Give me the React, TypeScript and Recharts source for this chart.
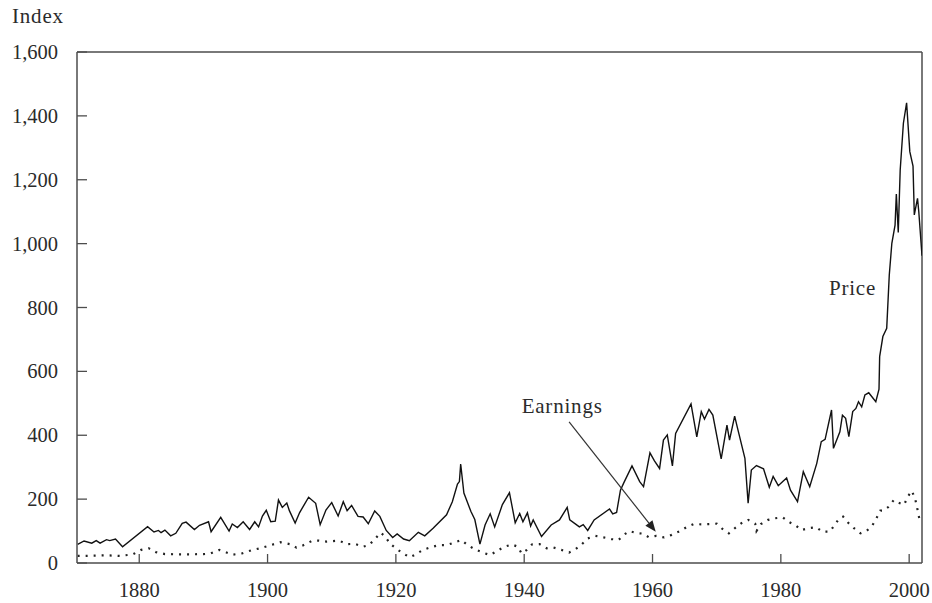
import React from 'react';
import { LineChart, Line, XAxis, YAxis, ReferenceLine, ReferenceDot } from 'recharts';

const priceYears = [
  1870.4, 1871.4, 1872.6, 1873.3, 1873.9, 1874.9, 1875.4, 1876.3, 1877.4, 1881.3,
  1882.3, 1883.0, 1883.4, 1884.0, 1884.9, 1885.7, 1886.7, 1887.3, 1888.6, 1889.4,
  1890.8, 1891.2, 1892.7, 1894.0, 1894.5, 1895.3, 1896.2, 1897.2, 1898.0, 1898.6,
  1899.2, 1899.8, 1900.5, 1901.2, 1901.7, 1902.3, 1903.0, 1903.4, 1904.3, 1905.0,
  1905.7, 1906.4, 1907.5, 1908.2, 1909.1, 1910.0, 1911.0, 1911.8, 1912.4, 1913.1,
  1914.1, 1914.9, 1915.7, 1916.7, 1917.5, 1918.5, 1919.5, 1920.2, 1921.2, 1922.1,
  1923.5, 1924.5, 1925.8, 1927.9, 1928.8, 1929.6, 1929.9, 1930.1, 1930.6, 1931.0,
  1931.7, 1932.3, 1933.1, 1933.9, 1934.7, 1935.4, 1936.6, 1937.7, 1938.6, 1939.3,
  1939.8, 1940.5, 1941.0, 1941.4, 1942.7, 1944.2, 1945.5, 1946.7, 1947.1, 1948.6,
  1949.2, 1949.9, 1950.9, 1953.3, 1953.8, 1954.4, 1955.0, 1955.5, 1956.8, 1958.0,
  1958.6, 1959.6, 1960.3, 1961.1, 1961.7, 1962.3, 1963.1, 1963.6, 1966.0, 1966.9,
  1967.6, 1968.1, 1968.8, 1969.4, 1970.7, 1971.6, 1972.0, 1972.8, 1973.2, 1974.4,
  1974.9, 1975.4, 1976.2, 1977.3, 1978.2, 1978.8, 1979.6, 1980.3, 1980.9, 1981.5,
  1982.6, 1983.5, 1984.5, 1985.6, 1986.3, 1986.9, 1987.9, 1988.2, 1989.2, 1989.6,
  1990.1, 1990.6, 1991.2, 1991.7, 1992.1, 1992.6, 1993.1, 1993.7, 1994.8, 1995.3,
  1995.4, 1995.9, 1996.5, 1996.9, 1997.3, 1997.8, 1998.0, 1998.3, 1998.6, 1999.1,
  1999.6, 2000.1, 2000.6, 2000.8, 2001.3, 2001.5, 2002.0,
];
const priceValues = [
  58, 69, 62, 70, 62, 73, 70, 75, 51, 114,
  97, 102, 95, 103, 85, 93, 124, 128, 105, 118,
  129, 98, 143, 100, 122, 111, 129, 105, 129, 113,
  147, 165, 129, 131, 197, 174, 188, 164, 125, 158,
  182, 206, 187, 120, 166, 189, 147, 192, 164, 180,
  146, 144, 123, 163, 146, 102, 80, 91, 75, 70,
  96, 85, 109, 151, 192, 247, 255, 310, 219, 198,
  161, 136, 59, 119, 154, 113, 183, 220, 126, 155,
  129, 157, 116, 135, 83, 119, 135, 174, 135, 113,
  120, 102, 135, 169, 154, 158, 228, 250, 304, 255,
  239, 345, 320, 296, 385, 401, 304, 406, 498, 395,
  474, 451, 481, 463, 326, 432, 385, 460, 426, 328,
  187, 291, 305, 295, 237, 271, 242, 255, 266, 228,
  192, 286, 239, 312, 380, 387, 479, 359, 411, 463,
  453, 396, 474, 484, 505, 489, 526, 533, 505, 544,
  646, 709, 735, 902, 1001, 1058, 1155, 1035, 1230, 1377,
  1441, 1288, 1243, 1090, 1142, 1100, 962,
];

const earningsYears = [
  1870.4, 1873, 1875, 1877, 1879, 1880.3, 1881.5, 1882.6, 1884, 1886,
  1888, 1890, 1891, 1892.5, 1894.5, 1896, 1897.5, 1899, 1900.5, 1902,
  1903.5, 1904.5, 1905.5, 1907, 1908, 1909.2, 1911.2, 1912.3, 1913.6, 1914.9,
  1915.8, 1916.7, 1917.6, 1918.3, 1919.1, 1920, 1921.1, 1922.2, 1923.2, 1924.2,
  1925.4, 1926.7, 1927.9, 1929.1, 1930.2, 1931.2, 1932.3, 1933.6, 1934.7, 1935.8,
  1936.9, 1938.1, 1939, 1939.6, 1940.4, 1941.2, 1942.4, 1943.5, 1944.5, 1945.8,
  1947, 1948, 1949, 1949.9, 1951.1, 1952.4, 1953.6, 1954.7, 1955.5, 1956.4,
  1957.5, 1958.5, 1959.4, 1960.6, 1961.8, 1963, 1964.2, 1965.3, 1966.4, 1967.6,
  1968.8, 1970, 1970.8, 1971.9, 1972.9, 1973.8, 1974.9, 1976, 1976.2, 1976.9,
  1978, 1979.1, 1980.3, 1981.3, 1982.4, 1983.2, 1984.3, 1985.5, 1986.5, 1987.6,
  1988.4, 1989.1, 1989.7, 1990.5, 1991.4, 1992.4, 1993.4, 1994.3, 1994.9, 1995.5,
  1996, 1996.8, 1997.6, 1998.3, 1999.2, 1999.8, 2000.4, 2000.9, 2001.2, 2001.4,
  2001.7,
];
const earningsValues = [
  22, 23, 24, 22, 27, 41, 46, 34, 28, 27,
  27, 28, 29, 41, 26, 30, 40, 47, 56, 65,
  59, 48, 55, 70, 70, 67, 70, 59, 60, 51,
  56, 74, 95, 84, 60, 46, 30, 18, 28, 41,
  49, 56, 56, 64, 72, 56, 43, 32, 25, 38,
  51, 58, 51, 30, 41, 58, 59, 46, 49, 41,
  33, 43, 59, 77, 85, 80, 75, 72, 88, 100,
  94, 92, 81, 85, 80, 88, 99, 112, 122, 121,
  122, 123, 108, 93, 110, 124, 135, 123, 100, 122,
  135, 140, 143, 128, 116, 103, 109, 112, 98, 98,
  119, 140, 145, 126, 109, 93, 101, 119, 140, 164,
  164, 176, 197, 189, 182, 208, 226, 203, 178, 156,
  129,
];

const xTicks = [1880, 1900, 1920, 1940, 1960, 1980, 2000];
const yTicks = [0, 200, 400, 600, 800, 1000, 1200, 1400, 1600];

const priceData = priceYears.map((year, i) => ({ year, value: priceValues[i] }));
const earningsData = earningsYears.map((year, i) => ({ year, value: earningsValues[i] }));

const FONT = '"Liberation Serif", "Times New Roman", serif';
const TEXT = '#2b2b2b';
const AXIS = '#4d4d4d';

const XTick = (props: any) => {
  const { x, y, payload } = props;
  return (
    <g>
      <line x1={x} y1={y} x2={x} y2={y - 9} stroke={AXIS} strokeWidth={1.3} />
      <text x={x} y={y + 34} textAnchor="middle" fontFamily={FONT} fontSize={20.5} fill={TEXT}>
        {payload.value}
      </text>
    </g>
  );
};

const YTick = (props: any) => {
  const { x, y, payload } = props;
  return (
    <g>
      <line x1={x} y1={y} x2={x + 10} y2={y} stroke={AXIS} strokeWidth={1.3} />
      <text x={x - 19} y={y + 7} textAnchor="end" fontFamily={FONT} fontSize={20.5} fill={TEXT}>
        {Number(payload.value).toLocaleString('en-US')}
      </text>
    </g>
  );
};

const Arrow = (props: any) => {
  const { x1, y1, x2, y2 } = props;
  const dx = x2 - x1;
  const dy = y2 - y1;
  const len = Math.sqrt(dx * dx + dy * dy) || 1;
  const ux = dx / len;
  const uy = dy / len;
  const headLen = 11;
  const headHalf = 4.5;
  const bx = x2 - ux * headLen;
  const by = y2 - uy * headLen;
  const px = -uy;
  const py = ux;
  return (
    <g>
      <line x1={x1} y1={y1} x2={bx} y2={by} stroke="#333" strokeWidth={1.2} />
      <polygon
        points={`${x2},${y2} ${bx + px * headHalf},${by + py * headHalf} ${bx - px * headHalf},${by - py * headHalf}`}
        fill="#222"
      />
    </g>
  );
};

const WordLabel = (text: string) => (props: any) => (
  <text x={props.cx} y={props.cy} textAnchor="start" fontFamily={FONT} fontSize={21} letterSpacing={0.8} fill={TEXT}>
    {text}
  </text>
);

export default function App() {
  return (
    <div style={{ position: 'absolute', left: 0, top: 0, background: '#fff' }}>
      <LineChart width={932} height={603} margin={{ top: 52, right: 10, bottom: 0, left: 0 }}>
        <XAxis
          dataKey="year"
          type="number"
          domain={[1870.3, 2002]}
          allowDataOverflow
          ticks={xTicks}
          height={40}
          axisLine={{ stroke: AXIS, strokeWidth: 1.5 }}
          tickLine={false}
          tickSize={0}
          tickMargin={0}
          tick={<XTick />}
          interval={0}
        />
        <YAxis
          type="number"
          domain={[0, 1600]}
          allowDataOverflow
          ticks={yTicks}
          width={77}
          axisLine={{ stroke: AXIS, strokeWidth: 1.5 }}
          tickLine={false}
          tickSize={0}
          tickMargin={0}
          tick={<YTick />}
          interval={0}
          label={{
            content: () => (
              <text x={12} y={23} fontFamily={FONT} fontSize={21} letterSpacing={0.8} fill={TEXT}>
                Index
              </text>
            ),
          }}
        />
        <ReferenceLine y={1600} stroke={AXIS} strokeWidth={1.5} />
        <ReferenceLine x={2002} stroke={AXIS} strokeWidth={1.5} />
        <Line
          data={earningsData}
          dataKey="value"
          type="linear"
          stroke="#222"
          strokeWidth={2.2}
          strokeDasharray="2 6"
          dot={false}
          activeDot={false}
          isAnimationActive={false}
        />
        <Line
          data={priceData}
          dataKey="value"
          type="linear"
          stroke="#111"
          strokeWidth={1.4}
          dot={false}
          activeDot={false}
          isAnimationActive={false}
        />
        <ReferenceLine
          segment={[
            { x: 1947, y: 442 },
            { x: 1960.5, y: 98 },
          ]}
          shape={<Arrow />}
        />
        <ReferenceDot x={1987.5} y={839} r={0} shape={WordLabel('Price')} />
        <ReferenceDot x={1939.6} y={470} r={0} shape={WordLabel('Earnings')} />
      </LineChart>
    </div>
  );
}
